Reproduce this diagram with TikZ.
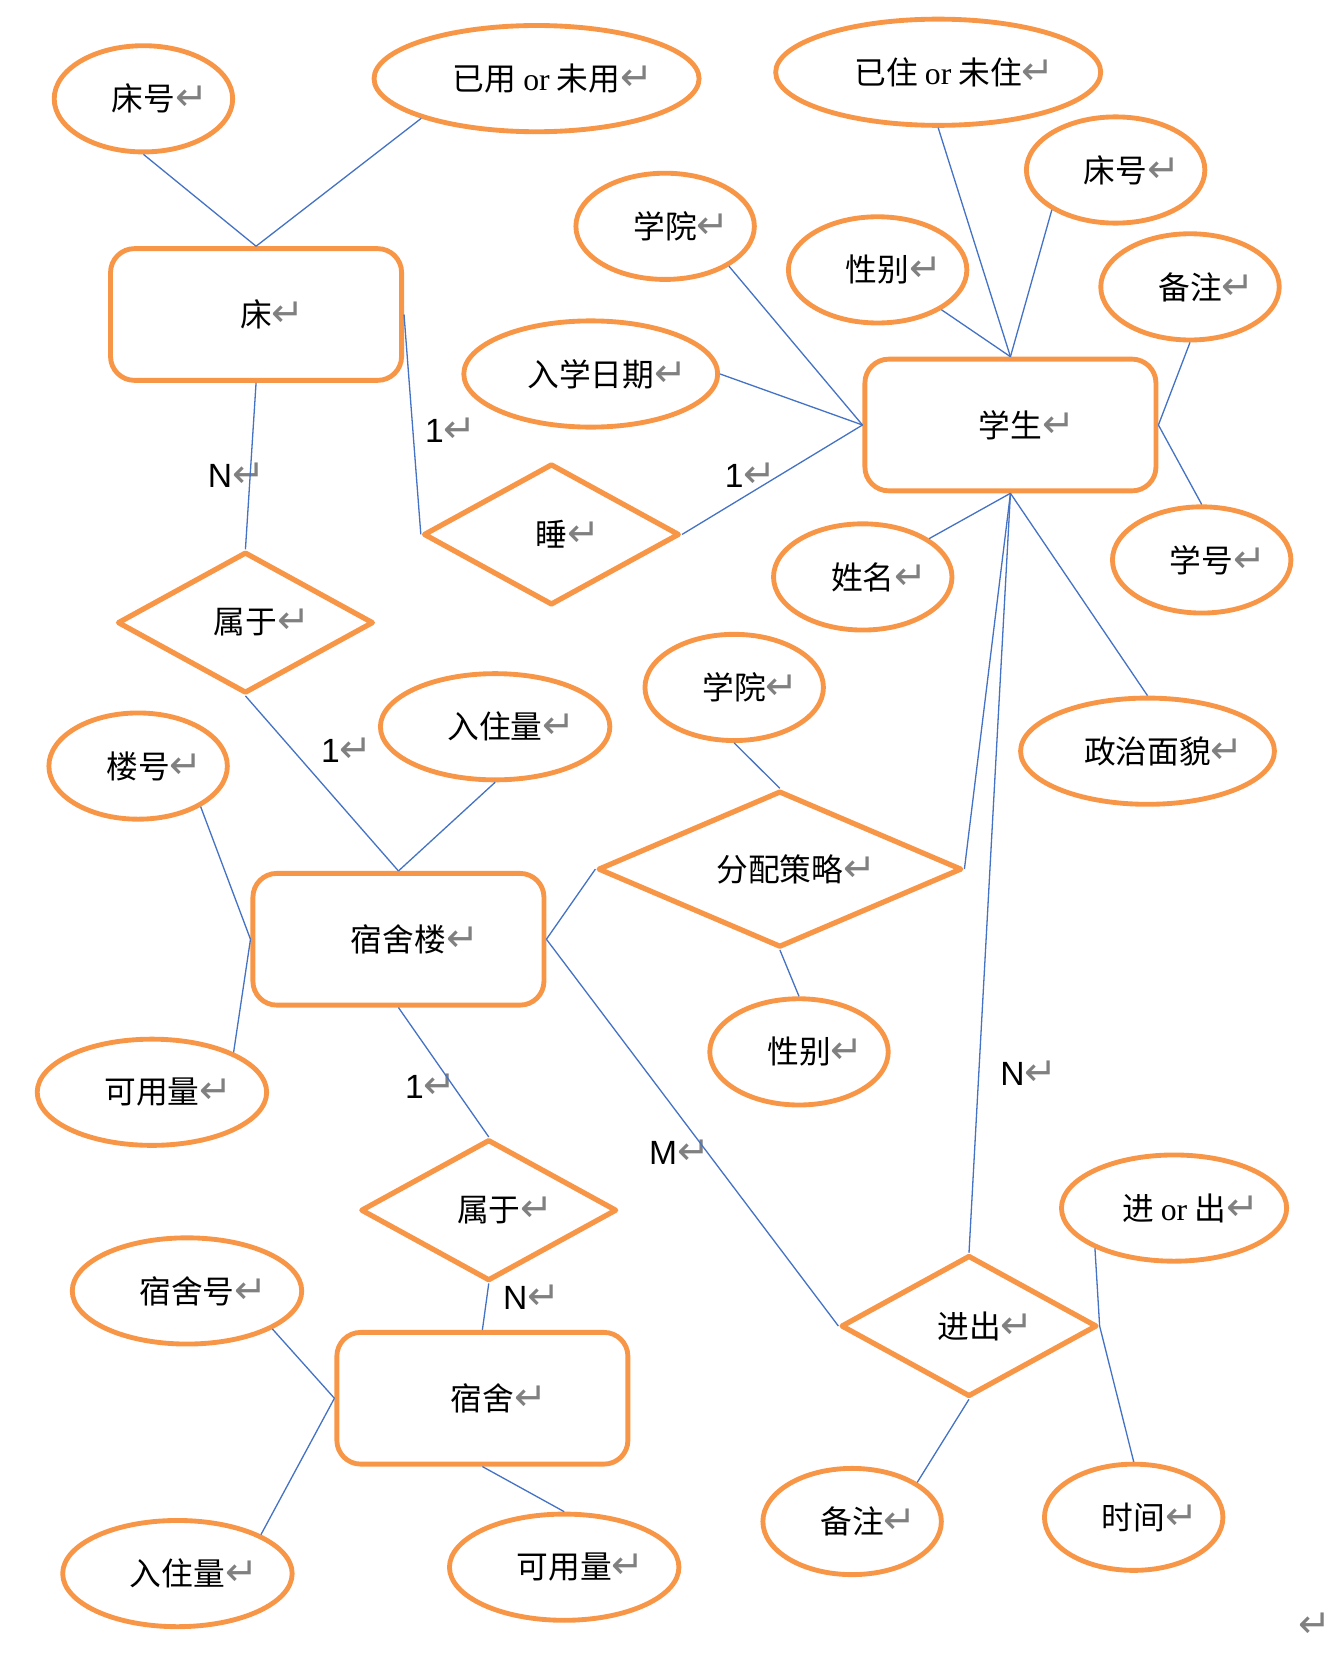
\documentclass[tikz,border=0pt]{standalone}
\usepackage{fontspec}
\usepackage{tikz}
\usetikzlibrary{shapes.geometric}

\newfontfamily\cjk{Noto Sans CJK SC}
\newfontfamily\romanor{Liberation Serif}
\newfontfamily\sanscard{Liberation Sans}
\newfontfamily\arrowfont{DejaVu Sans}

\definecolor{erorange}{RGB}{247,150,70}
\definecolor{erblue}{RGB}{68,114,196}
\definecolor{retgray}{RGB}{128,128,128}

% the paragraph mark that follows every label
\newcommand\ret{\rlap{\arrowfont\fontsize{21pt}{21pt}\selectfont\color{retgray}↵}}
\newcommand\orword{{\romanor or}}

\tikzset{
    entity/.style={draw=erorange, line width=2.6pt, rounded corners=0.45cm,
        minimum width=5.48cm, minimum height=2.48cm,
        font=\cjk\fontsize{17pt}{18pt}\selectfont},
    relation/.style={diamond, draw=erorange, line width=2.8pt, line join=round,
        minimum width=4.82cm, minimum height=2.66cm, inner sep=0pt,
        font=\cjk\fontsize{17pt}{18pt}\selectfont},
    attr/.style={ellipse, draw=erorange, line width=2.6pt,
        minimum width=3.36cm, minimum height=2cm, inner sep=0pt,
        font=\cjk\fontsize{17pt}{18pt}\selectfont},
    link/.style={draw=erblue, line width=0.7pt},
    card/.style={inner sep=0pt, font=\sanscard\fontsize{18pt}{20pt}\selectfont},
}

\begin{document}
\begin{tikzpicture}[x=0.02cm,y=-0.02cm]

        \useasboundingbox (0,0) rectangle (1263,1568);

        % entities
        \node[entity] (bed)  at (241,296)  {床\ret};
        \node[entity] (stu)  at (951,400)  {学生\ret};
        \node[entity] (bldg) at (375,884)  {宿舍楼\ret};
        \node[entity] (room) at (454,1316) {宿舍\ret};

        % relations
        \node[relation] (belongbed)  at (231,586)  {属于\ret};
        \node[relation] (sleep)      at (519,503)  {睡\ret};
        \node[relation, minimum width=6.85cm] (alloc) at (734,818) {分配策略\ret};
        \node[relation] (belongroom) at (460,1139) {属于\ret};
        \node[relation] (inout)      at (912,1248) {进出\ret};

        % attributes of bed
        \node[attr] (bedno) at (135,93) {床号\ret};
        \node[attr, minimum width=6.12cm] (used) at (505,74) {已用 \orword{} 未用\ret};

        % attributes of student
        \node[attr, minimum width=6.12cm] (lived) at (883,68) {已住 \orword{} 未住\ret};
        \node[attr] (stubed)    at (1050,160) {床号\ret};
        \node[attr] (college)   at (626,213)  {学院\ret};
        \node[attr] (sex)       at (826,254)  {性别\ret};
        \node[attr] (remark)    at (1120,270) {备注\ret};
        \node[attr, minimum width=4.78cm] (enroll) at (556,352) {入学日期\ret};
        \node[attr] (stuno)     at (1131,527) {学号\ret};
        \node[attr] (stuname)   at (812,543)  {姓名\ret};
        \node[attr, minimum width=4.78cm] (politics) at (1080,707) {政治面貌\ret};

        % attributes of building and allocation
        \node[attr] (alloccollege) at (691,647) {学院\ret};
        \node[attr] (allocsex)     at (752,990) {性别\ret};
        \node[attr, minimum width=4.32cm] (bldglive)  at (466,684)  {入住量\ret};
        \node[attr] (bldgno)       at (130,721) {楼号\ret};
        \node[attr, minimum width=4.32cm] (bldgfree)  at (143,1028) {可用量\ret};

        % attributes of room
        \node[attr, minimum width=4.32cm] (roomno)    at (176,1215) {宿舍号\ret};
        \node[attr, minimum width=4.32cm] (roomlive)  at (167,1481) {入住量\ret};
        \node[attr, minimum width=4.32cm] (roomfree)  at (531,1475) {可用量\ret};

        % attributes of in/out
        \node[attr, minimum width=4.24cm] (direction) at (1105,1137) {进 \orword{} 出\ret};
        \node[attr] (ioremark) at (802,1432)  {备注\ret};
        \node[attr] (iotime)   at (1067,1428) {时间\ret};

        % cardinalities
        \node[card] (nbed)       at (207,447)  {N\ret};
        \node[card] (onebed)     at (409,405)  {1\ret};
        \node[card] (onestu)     at (691,447)  {1\ret};
        \node[card] (onebldg)    at (311,706)  {1\ret};
        \node[card] (onebldgrm)  at (390,1022) {1\ret};
        \node[card] (mbldg)      at (624,1084) {M\ret};
        \node[card] (nstu)       at (953,1010) {N\ret};
        \node[card] (nroom)      at (485,1221) {N\ret};
        \node[inner sep=0pt] (endmark) at (1222,1530) {\ret};

        % bed
        \draw[link] (bedno.south) -- (bed.north);
        \draw[link] (used.199) -- (bed.north);
        \draw[link] (bed.east) -- (sleep.west);
        \draw[link] (bed.south) -- (belongbed.north);
        \draw[link] (belongbed.south) -- (bldg.north);

        % student
        \draw[link] (sleep.east) -- (stu.west);
        \draw[link] (enroll.east) -- (stu.west);
        \draw[link] (college.-32) -- (stu.west);
        \draw[link] (sex.-32) -- (stu.north);
        \draw[link] (lived.south) -- (stu.north);
        \draw[link] (stubed.212) -- (stu.north);
        \draw[link] (remark.south) -- (stu.east);
        \draw[link] (stuno.north) -- (stu.east);
        \draw[link] (stuname.30) -- (stu.south);
        \draw[link] (stu.south) -- (politics.north);
        \draw[link] (stu.south) -- (alloc.east);
        \draw[link] (stu.south) -- (inout.north);

        % building
        \draw[link] (bldglive.south) -- (bldg.north);
        \draw[link] (bldgno.-33) -- (bldg.west);
        \draw[link] (bldgfree.26) -- (bldg.west);
        \draw[link] (bldg.east) -- (alloc.west);
        \draw[link] (bldg.east) -- (inout.west);
        \draw[link] (bldg.south) -- (belongroom.north);
        \draw[link] (alloccollege.south) -- (alloc.north);
        \draw[link] (alloc.south) -- (allocsex.north);

        % room
        \draw[link] (belongroom.south) -- (room.north);
        \draw[link] (roomno.-24) -- (room.west);
        \draw[link] (roomlive.25) -- (room.west);
        \draw[link] (room.south) -- (roomfree.north);

        % in/out
        \draw[link] (direction.207) -- (inout.east);
        \draw[link] (inout.east) -- (iotime.north);
        \draw[link] (inout.south) -- (ioremark.31);
    \end{tikzpicture}
\end{document}
